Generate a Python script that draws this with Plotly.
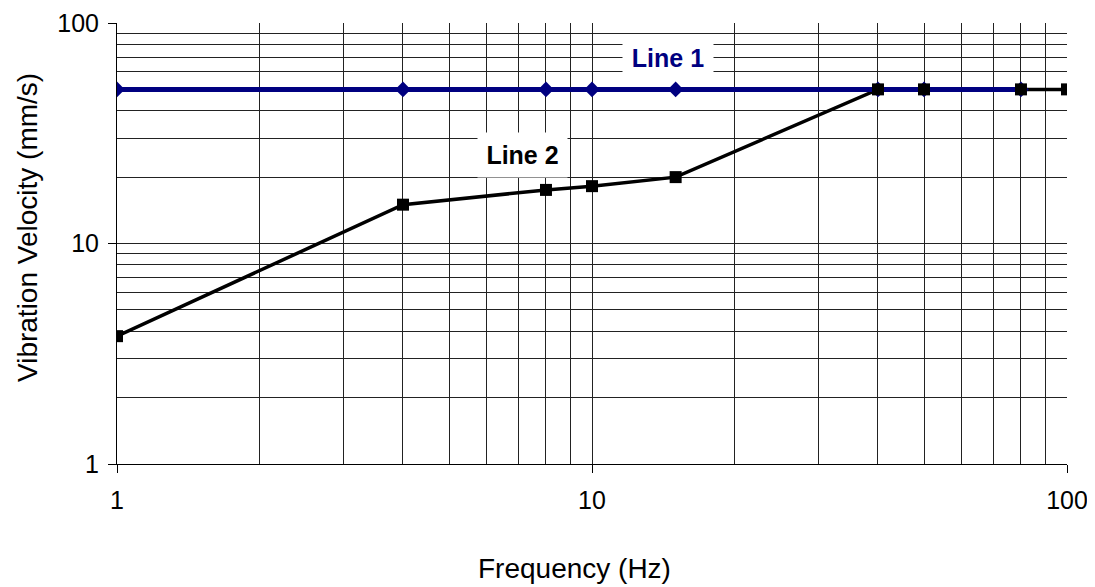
import plotly.graph_objects as go

freq_line1 = [1, 4, 8, 10, 15, 40, 50, 80]
vel_line1 = [50, 50, 50, 50, 50, 50, 50, 50]
freq_line2 = [1, 4, 8, 10, 15, 40, 50, 80, 100]
vel_line2 = [3.8, 15, 17.5, 18.2, 20, 50, 50, 50, 50]
tick_vals = [1, 10, 100]
tick_text = ["1", "10", "100"]
minor_vals = [2, 3, 4, 5, 6, 7, 8, 9, 20, 30, 40, 50, 60, 70, 80, 90]

FONT = "Liberation Sans, Arial"
navy = "#000080"
fig = go.Figure()
fig.add_trace(go.Scatter(x=freq_line2, y=vel_line2, mode="lines",
                         line=dict(color="black", width=3.5), showlegend=False, hoverinfo="skip"))
fig.add_trace(go.Scatter(x=freq_line1, y=vel_line1, mode="lines+markers", name="Line 1",
                         line=dict(color=navy, width=5),
                         marker=dict(symbol="diamond", size=12, color=navy), showlegend=False))
fig.add_trace(go.Scatter(x=freq_line2, y=vel_line2, mode="markers", name="Line 2",
                         marker=dict(symbol="square", size=12, color="black"), showlegend=False))

# series labels (log-axis coordinates)
fig.add_annotation(x=(668 - 117) / 475, y=2 - (58 - 23) / 220.5, xref="x", yref="y",
                   text="<b>Line 1</b>", showarrow=False, bgcolor="white",
                   font=dict(color=navy, size=25, family=FONT),
                   width=90, height=30, borderpad=0,
                   xanchor="center", yanchor="middle")
fig.add_annotation(x=(522 - 117) / 475, y=2 - (155 - 23) / 220.5, xref="x", yref="y",
                   text="<b>Line 2</b>", showarrow=False, bgcolor="white",
                   font=dict(color="black", size=25, family=FONT),
                   width=89, height=44, borderpad=0,
                   xanchor="center", yanchor="middle")

# axis titles placed as in the reference (slightly off-centre)
fig.add_annotation(x=(574 - 117) / 950, y=(464 - 568) / 441, xref="paper", yref="paper",
                   text="Frequency (Hz)", showarrow=False,
                   xanchor="center", yanchor="middle",
                   font=dict(size=28, color="black", family=FONT))
fig.add_annotation(x=(27 - 117) / 950, y=(464 - 228) / 441, xref="paper", yref="paper",
                   text="Vibration Velocity (mm/s)", showarrow=False, textangle=-90,
                   xanchor="center", yanchor="middle",
                   font=dict(size=28, color="black", family=FONT))

axis_common = dict(type="log", range=[0, 2], tickvals=tick_vals, ticktext=tick_text,
                   showgrid=True, gridcolor="#222222", gridwidth=1,
                   ticks="outside", ticklen=8, tickcolor="black",
                   showline=True, linecolor="black", linewidth=1,
                   zeroline=False, automargin=False,
                   minor=dict(tickvals=minor_vals, showgrid=True, gridcolor="#222222",
                              gridwidth=1, ticks=""),
                   tickfont=dict(size=25, color="black", family=FONT))

fig.update_xaxes(**axis_common, ticklabelstandoff=6)
fig.update_yaxes(**axis_common, ticklabelstandoff=4)

# page body has an 8px default margin, so the margins are shifted to compensate
fig.update_layout(width=1095, height=587, plot_bgcolor="white", paper_bgcolor="white",
                  margin=dict(l=109, r=36, t=15, b=131, autoexpand=False),
                  font=dict(family=FONT, color="black"))

fig.write_html("out.html")
